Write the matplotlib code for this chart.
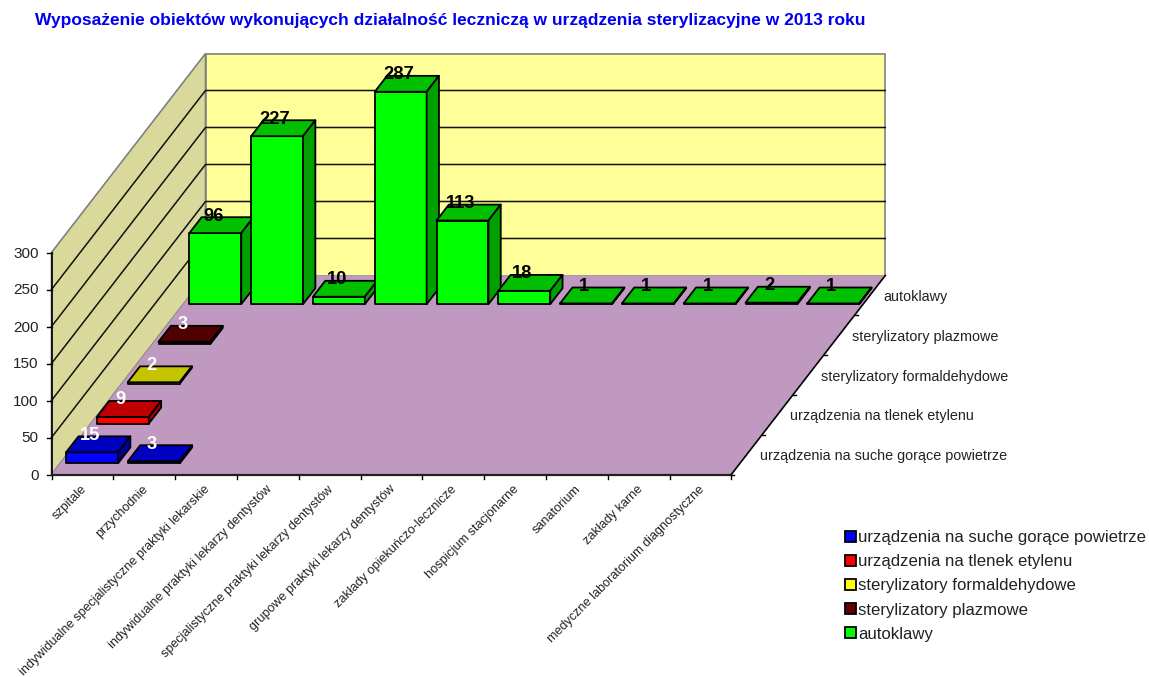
import matplotlib
matplotlib.use('Agg')
import matplotlib.pyplot as plt
from matplotlib.patches import Polygon, Patch

plt.rcParams['font.family'] = ['Liberation Sans', 'DejaVu Sans']

title = 'Wyposażenie obiektów wykonujących działalność leczniczą w urządzenia sterylizacyjne w 2013 roku'

categories = ['szpitale', 'przychodnie', 'indywidualne specjalistyczne praktyki lekarskie',
              'indywidualne praktyki lekarzy dentystów', 'specjalistyczne praktyki lekarzy dentystów',
              'grupowe praktyki lekarzy dentystów', 'zakłady opiekuńczo-lecznicze', 'hospicjum stacjonarne',
              'sanatorium', 'zakłady karne', 'medyczne laboratorium diagnostyczne']
series_names = ['urządzenia na suche gorące powietrze', 'urządzenia na tlenek etylenu',
                'sterylizatory formaldehydowe', 'sterylizatory plazmowe', 'autoklawy']

suche = [15, 3, None, None, None, None, None, None, None, None, None]
tlenek = [9, None, None, None, None, None, None, None, None, None, None]
formaldehyd = [2, None, None, None, None, None, None, None, None, None, None]
plazma = [3, None, None, None, None, None, None, None, None, None, None]
autoklawy = [96, 227, 10, 287, 113, 18, 1, 1, 1, 2, 1]
all_series = [suche, tlenek, formaldehyd, plazma, autoklawy]

yticks = [0, 50, 100, 150, 200, 250, 300]

# front, top, side colour of each series
colors = [('#0000ff', '#0000c0', '#00009c'), ('#ff0000', '#c00000', '#a00000'),
          ('#ffff00', '#c4c400', '#a0a000'), ('#660000', '#500000', '#400000'),
          ('#00ff00', '#00c000', '#00a000')]
label_colors = ['white', 'white', 'white', 'white', 'black']

# oblique projection of the excel 3d chart, result in pixels
x0 = 51.5; y0 = 474.5
cat_w = 61.8; ser_dx = 30.8; ser_dy = -39.8; unit = 0.74
n = len(categories); m = len(series_names)

def proj(c, s, v):
    return (x0 + c * cat_w + s * ser_dx, y0 + s * ser_dy - v * unit)

fig = plt.figure(figsize=(11.49, 6.77), dpi=100)
ax = fig.add_axes([0, 0, 1, 1])
ax.set_xlim(0, 1149); ax.set_ylim(677, 0)
ax.axis('off')

ymax = yticks[-1]
# walls and floor
ax.add_patch(Polygon([proj(0, 0, 0), proj(0, m, 0), proj(0, m, ymax), proj(0, 0, ymax)],
                     fc='#d9d99c', ec='#808080', lw=1.2))
ax.add_patch(Polygon([proj(0, m, 0), proj(n, m, 0), proj(n, m, ymax), proj(0, m, ymax)],
                     fc='#ffff99', ec='#808080', lw=1.2))
ax.add_patch(Polygon([proj(0, 0, 0), proj(n, 0, 0), proj(n, m, 0), proj(0, m, 0)],
                     fc='#bf99bf', ec='none'))

# gridlines
for t in yticks[1:-1]:
    pts = [proj(0, 0, t), proj(0, m, t), proj(n, m, t)]
    ax.plot([p[0] for p in pts], [p[1] for p in pts], color='#111111', lw=1.1, zorder=2)

# axes
ax.plot([proj(0, 0, 0)[0], proj(0, 0, ymax)[0]], [proj(0, 0, 0)[1], proj(0, 0, ymax)[1]], color='black', lw=1.2, zorder=3)
ax.plot([proj(0, 0, 0)[0], proj(n, 0, 0)[0]], [proj(0, 0, 0)[1], proj(n, 0, 0)[1]], color='#222222', lw=1.6, zorder=3)
ax.plot([proj(n, 0, 0)[0], proj(n, m, 0)[0]], [proj(n, 0, 0)[1], proj(n, m, 0)[1]], color='black', lw=1.2, zorder=3)

for t in yticks:
    x, y = proj(0, 0, t)
    ax.plot([x - 5, x], [y, y], color='black', lw=1)
    ax.text(x - 13, y + 1, str(t), ha='right', va='center', fontsize=11, color='#222222')

for i, name in enumerate(categories):
    x, y = proj(i, 0, 0)
    ax.plot([x, x], [y, y + 4], color='black', lw=1)
    xc, yc = proj(i + 0.5, 0, 0)
    ax.text(xc + 2, yc + 13, name, rotation=45, rotation_mode='anchor', ha='right', va='center',
            fontsize=9.05, color='#222222')
ax.plot([proj(n, 0, 0)[0]] * 2, [y, y + 4], color='black', lw=1)

for j, name in enumerate(series_names):
    x, y = proj(n, j, 0)
    ax.plot([x, x + 3], [y, y], color='black', lw=1, zorder=3)
    xc, yc = proj(n, j + 0.5, 0)
    ax.text(xc + 13, yc + 1.5, name, ha='left', va='center', fontsize=10.4, color='#222222')

# bars, back row first
bar_l = 0.097; bar_r = 0.937; d_f = 0.28; d_b = 0.68
for j in range(m - 1, -1, -1):
    front, top, side = colors[j]
    for i in range(n):
        v = all_series[j][i]
        if v is None:
            continue
        l = i + bar_l; r = i + bar_r; f = j + d_f; b = j + d_b
        ax.add_patch(Polygon([proj(l, f, 0), proj(r, f, 0), proj(r, f, v), proj(l, f, v)],
                             fc=front, ec='black', lw=1.3, zorder=4, joinstyle='round'))
        ax.add_patch(Polygon([proj(l, f, v), proj(r, f, v), proj(r, b, v), proj(l, b, v)],
                             fc=top, ec='black', lw=1.3, zorder=4, joinstyle='round'))
        ax.add_patch(Polygon([proj(r, f, 0), proj(r, b, 0), proj(r, b, v), proj(r, f, v)],
                             fc=side, ec='black', lw=1.3, zorder=4, joinstyle='round'))
        x, y = proj(i + 0.5, f, v)
        ax.text(x - 1, y - 17, str(v), ha='center', va='center', fontsize=13.2, fontweight='bold',
                color=label_colors[j], zorder=5)

ax.text(35, 21, title, ha='left', va='center', fontsize=12.5, fontweight='bold', color='#0000ee')

handles = [Patch(fc=colors[j][0], ec='black', lw=1.3) for j in range(m)]
ax.legend(handles, series_names, loc='upper left', bbox_to_anchor=(840 / 1149, 1 - 525 / 677), frameon=False,
          fontsize=12.1, handlelength=0.65, handleheight=0.65, handletextpad=0.15, labelspacing=0.545,
          borderpad=0.3, borderaxespad=0, labelcolor='#222222')

fig.savefig('out.png', dpi=100)
